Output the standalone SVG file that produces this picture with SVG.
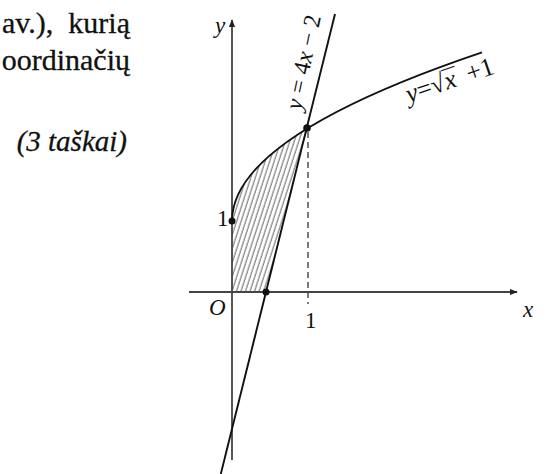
<svg xmlns="http://www.w3.org/2000/svg" width="546" height="474" viewBox="0 0 546 474">
<style>
text{font-family:"Liberation Serif","Times New Roman",serif;fill:#111}
.body{font-size:30px;stroke:#111;stroke-width:0.3}
.it{font-style:italic}
.lbl{font-size:23px}
.axis{stroke:#444;stroke-width:1.8;fill:none}
.curve{stroke:#111;stroke-width:1.9;fill:none}
.dash{stroke:#444;stroke-width:1.4;stroke-dasharray:6 4;fill:none}
</style>
<defs>
<pattern id="hatch" width="4.3" height="10" patternUnits="userSpaceOnUse" patternTransform="rotate(18)">
<line x1="1" y1="0" x2="1" y2="10" stroke="#555" stroke-width="0.9"/>
</pattern>
<marker id="arr" viewBox="0 0 10 10" refX="9" refY="5" markerWidth="8" markerHeight="8" markerUnits="userSpaceOnUse" orient="auto">
<path d="M0,1 L10,5 L0,9 Z" fill="#222"/>
</marker>
</defs>
<g id="text">
<text class="body" x="130" y="33" text-anchor="end" xml:space="preserve">av.),  kurią</text>
<text class="body" x="130" y="70" text-anchor="end">oordinačių</text>
<text class="body it" x="127" y="151" text-anchor="end" style="font-size:29px">(3 taškai)</text>
</g>
<g id="region">
<path d="M232,292 L232,221 Q232,174.5 308,128 L266,292 Z" fill="url(#hatch)"/>
</g>
<g id="axes">
<line class="axis" x1="189" y1="292" x2="517" y2="292" marker-end="url(#arr)"/>
<line class="axis" x1="232" y1="460" x2="232" y2="20" marker-end="url(#arr)"/>
</g>
<g id="connectors">
<line class="dash" x1="308" y1="132" x2="308" y2="304"/>
<line class="curve" x1="335" y1="14" x2="220.8" y2="474"/>
<path class="curve" d="M232,221 Q232,136.65 482,52.3"/>
</g>
<g id="points">
<circle cx="232" cy="221" r="3.5" fill="#111"/>
<circle cx="266" cy="292" r="3.5" fill="#111"/>
<circle cx="307" cy="128" r="3.8" fill="#111"/>
</g>
<g id="labels">
<text class="lbl it" x="215" y="33">y</text>
<text class="lbl it" x="523" y="317">x</text>
<text class="lbl it" x="209" y="315">O</text>
<text class="lbl" x="217" y="226">1</text>
<text class="lbl" x="305" y="328">1</text>
<text class="lbl" transform="translate(301,111) rotate(-78)" style="font-size:24px"><tspan class="it">y</tspan> = 4<tspan class="it">x</tspan> − 2</text>
<g transform="translate(409,103) rotate(-19)">
<text class="lbl" style="font-size:26px"><tspan class="it">y</tspan>=√<tspan class="it">x</tspan><tspan dx="12">+1</tspan></text>
<line x1="41" y1="-20" x2="55" y2="-20" stroke="#111" stroke-width="1.1"/>
</g>
</g>
</svg>
